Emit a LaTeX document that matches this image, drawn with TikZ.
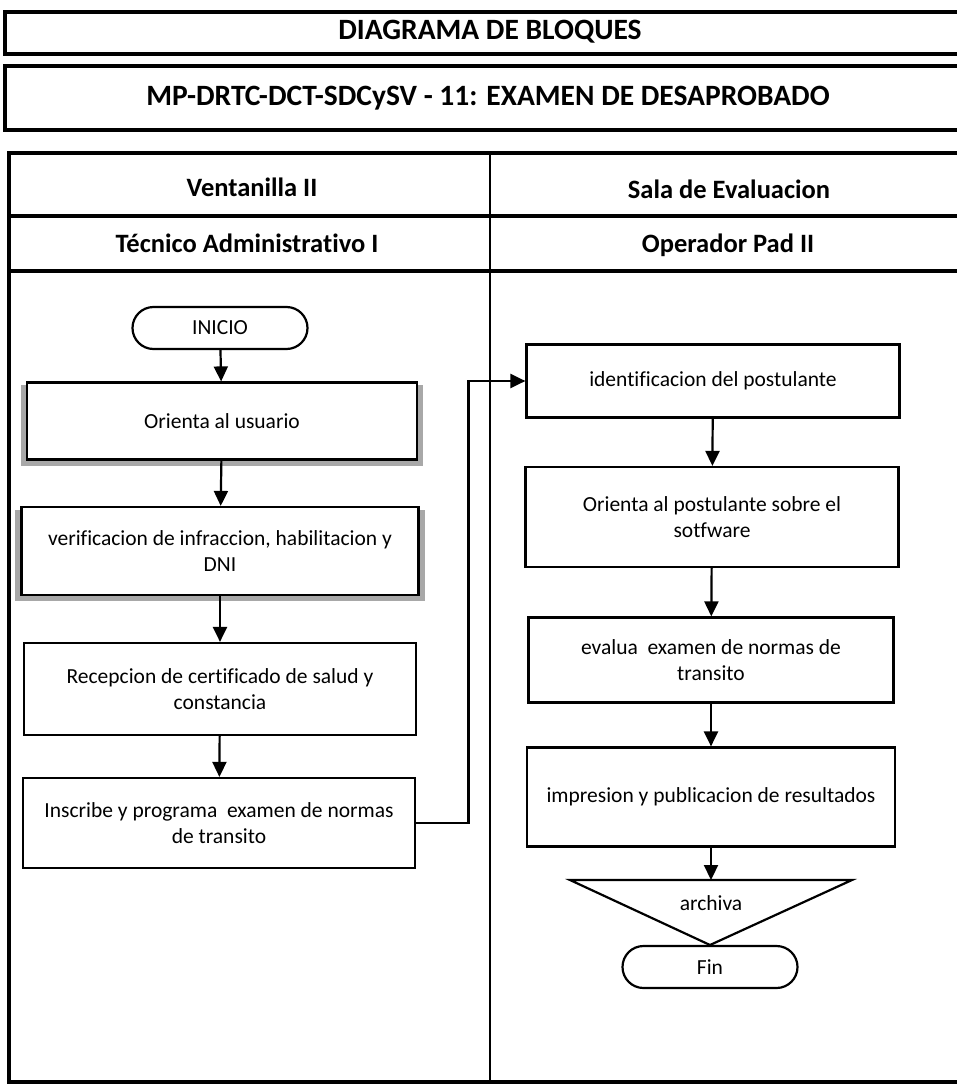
\documentclass[tikz,border=0pt]{standalone}
\usepackage{fontspec}
\setmainfont{Carlito}[Ligatures=NoCommon]
\usepackage{tikz}
\usetikzlibrary{arrows.meta,shapes,positioning}
\pgfdeclarelayer{background layer}
\pgfsetlayers{background layer,main}
\definecolor{shadowgray}{rgb}{0.66,0.66,0.66}

\begin{document}
\begin{tikzpicture}[x=1pt,y=-1pt]
\tikzstyle{box}=[draw=black,line width=2.2pt,fill=white,align=center,inner sep=0pt,font=\fontsize{21.5}{25.5}\selectfont]
\tikzstyle{term}=[draw=black,line width=2.2pt,rounded rectangle,minimum width=175pt,minimum height=42pt,inner sep=0pt,font=\fontsize{21.5}{25.5}\selectfont]
\tikzstyle{arrow}=[line width=2.2pt,->,>={Triangle[length=15pt,width=14pt]}]
\tikzstyle{frame}=[line width=4pt]
\tikzstyle{head}=[font=\fontsize{26.5}{30}\selectfont\bfseries]
\tikzstyle{title}=[font=\fontsize{29.5}{34}\selectfont\bfseries]
\useasboundingbox (0,0) rectangle (956,1092);

% title bars
\draw [frame] (5,12) rectangle (975,54);
\node [title] at (490,32) (t1) {DIAGRAMA DE BLOQUES};
\draw [frame] (5,66) rectangle (975,130);
\node [title] at (488,98) (t2) {MP-DRTC-DCT-SDCySV - 11: EXAMEN DE DESAPROBADO};

% lanes
\draw [frame] (9,153) rectangle (975,1082);
\draw [frame] (9,216) -- (975,216);
\draw [frame] (9,271) -- (975,271);
\draw [line width=2.5pt] (490,153) -- (490,1082);
\node [head] at (252,187) (h1) {Ventanilla II};
\node [head] at (729,189) (h2) {Sala de Evaluacion};
\node [head] at (247,243) (h3) {Técnico Administrativo I};
\node [head] at (728,245) (h4) {Operador Pad II};

% left lane
\node [term] at (220,328) (l0) {INICIO};
\node [box,minimum width=390pt,minimum height=77pt] at (222,421) (l1) {Orienta al usuario};
\node [box,minimum width=397pt,minimum height=88pt] at (220,551) (l2) {verificacion de infraccion, habilitacion y\\DNI};
\node [box,minimum width=392pt,minimum height=92pt] at (220,689) (l3) {Recepcion de certificado de salud y\\constancia};
\node [box,minimum width=392pt,minimum height=90pt] at (219,823) (l4) {Inscribe y programa\ \ examen de normas\\de transito};

% right lane
\node [box,minimum width=373pt,minimum height=73pt] at (713,381) (r1) {identificacion del postulante};
\node [box,minimum width=373pt,minimum height=100pt] at (712,517) (r2) {Orienta al postulante sobre el\\sotfware};
\node [box,minimum width=365pt,minimum height=85pt] at (711,660) (r3) {evalua\ \ examen de normas de\\transito};
\node [box,minimum width=368pt,minimum height=99pt] at (711,797) (r4) {impresion y publicacion de resultados};
\coordinate (a1) at (570,880);
\coordinate (a2) at (852,880);
\coordinate (a3) at (710,945);
\draw [line width=2.2pt] (a1) -- (a2) -- (a3) -- cycle;
\node [font=\fontsize{21.5}{25.5}\selectfont] at (711,903) (arch) {archiva};
\node [term] at (710,967) (fin) {Fin};

\draw [arrow] (l0) edge (l1);
\draw [arrow] (l1) edge (l2);
\draw [arrow] (l2) edge (l3);
\draw [arrow] (l3) edge (l4);
\draw [arrow] (l4.east) -| ([xshift=-57pt]r1.west) -- (r1.west);
\draw [arrow] (r1) edge (r2);
\draw [arrow] (r2) edge (r3);
\draw [arrow] (r3) edge (r4);
\draw [arrow] (r4.south) -- (r4.south |- a1);

\begin{pgfonlayer}{background layer}
\fill [shadowgray] ([xshift=-5pt,yshift=-4pt]l1.north west) rectangle ([xshift=5pt,yshift=-5pt]l1.south east);
\fill [shadowgray] ([xshift=-5pt,yshift=-4pt]l2.north west) rectangle ([xshift=5pt,yshift=-5pt]l2.south east);
\end{pgfonlayer}
\end{tikzpicture}
\end{document}
